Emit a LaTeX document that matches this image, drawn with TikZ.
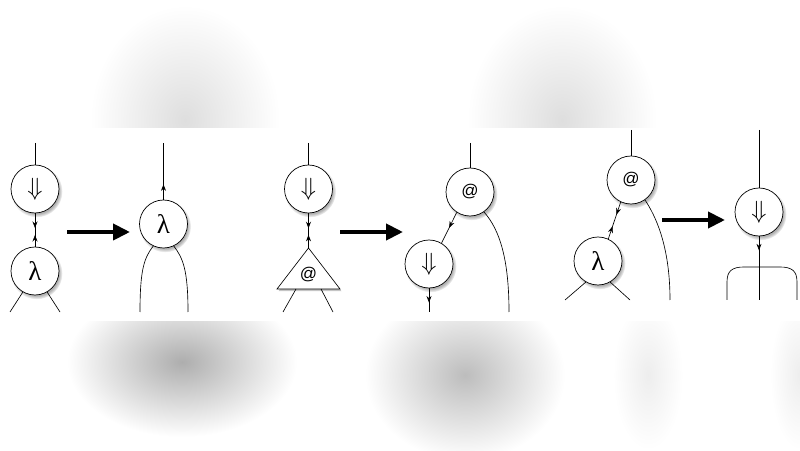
\documentclass[tikz,border=0pt]{standalone}
\usepackage{fontspec}
\newfontfamily\helv{Liberation Sans}
\newfontfamily\serifgreek{Liberation Serif}
\usetikzlibrary{shapes,arrows,arrows.meta,shadows,decorations.markings}
\tikzstyle{agent} = [circle, draw=black, fill=white, minimum size=48pt, inner sep=0pt, line width=0.7pt, circular drop shadow={shadow scale=1.08, shadow xshift=1.5pt, shadow yshift=-2.2pt, opacity=0.6}]
\tikzstyle{wire} = [line width=0.65pt]
\tikzstyle{rewrite} = [line width=4pt, -{Triangle[length=17pt,width=16pt]}]
\tikzstyle{blob} = [outer color=white]
\tikzset{tipat/.style={postaction={decorate}, decoration={markings, mark=at position #1 with {\arrow{Stealth[length=6.5pt,width=5pt]}}}}}
\tikzset{meet/.style 2 args={postaction={decorate}, decoration={markings, mark=at position #1 with {\arrow{Stealth[length=6.5pt,width=5pt]}}, mark=at position #2 with {\arrowreversed{Stealth[length=6.5pt,width=5pt]}}}}}
\newcommand\bigsym{\Huge}
\newcommand\lam{\serifgreek\fontsize{27}{27}\selectfont λ}
\newcommand\atsym{\helv\fontsize{17}{17}\selectfont @}

\begin{document}
\begin{tikzpicture}[x=1pt,y=1pt,node distance=82pt]
    \useasboundingbox (0,0) rectangle (800,450);
    % blurred backdrop
    \shade[blob, inner color=black!13] (185,330) ellipse (95 and 115);
    \shade[blob, inner color=black!13] (562,330) ellipse (95 and 115);
    \shade[blob, inner color=black!32] (182,88) ellipse (115 and 75);
    \shade[blob, inner color=black!26] (465,75) ellipse (100 and 85);
    \shade[blob, inner color=black!7] (648,75) ellipse (35 and 75);
    \shade[blob, inner color=black!7] (800,75) ellipse (30 and 75);
    \fill[white] (0,129) rectangle (800,322);

    % first rule
    \node (dn1) [agent] at (35,261) {\bigsym$\Downarrow$};
    \node (lam1) [agent, below of=dn1] {\lam};
    \coordinate (t1) at (35,307);
    \coordinate (l1a) at (10,138);
    \coordinate (l1b) at (60,138);
    \draw [wire] (t1) -- (dn1);
    \draw [wire, meet={0.44}{0.65}] (dn1) -- (lam1);
    \draw [wire] (lam1.240) -- (l1a);
    \draw [wire] (lam1.300) -- (l1b);
    \coordinate (r1s) at (67,218);
    \coordinate (r1e) at (130,218);
    \draw [rewrite] (r1s) -- (r1e);
    \node (lam2) [agent] at (163.5,226) {\lam};
    \coordinate (t2) at (163.5,307);
    \coordinate (l2a) at (140,138);
    \coordinate (l2b) at (188,138);
    \draw [wire, tipat=0.27] (lam2) -- (t2);
    \draw [wire] (lam2.245) .. controls (144,192) and (140,180) .. (l2a);
    \draw [wire] (lam2.295) .. controls (183,192) and (188,180) .. (l2b);

    % second rule
    \node (dn2) [agent] at (308.5,261) {\bigsym$\Downarrow$};
    \coordinate (apex) at (308.5,202);
    \coordinate (bl) at (277,161);
    \coordinate (br) at (340,161);
    \filldraw [wire, fill=white, drop shadow={shadow xshift=1.5pt, shadow yshift=-2.2pt, opacity=0.45}] (apex) -- (bl) -- (br) -- cycle;
    \node (app1) at (308.5,175) {\atsym};
    \coordinate (t3) at (308.5,307);
    \coordinate (l3a) at (283,138);
    \coordinate (l3b) at (333,138);
    \draw [wire] (t3) -- (dn2);
    \draw [wire, meet={0.43}{0.62}] (dn2) -- (apex);
    \draw [wire] (296,161) -- (l3a);
    \draw [wire] (321,161) -- (l3b);
    \coordinate (r2s) at (340,218);
    \coordinate (r2e) at (403,218);
    \draw [rewrite] (r2s) -- (r2e);
    \node (app2) [agent] at (470,258) {\atsym};
    \node (dn3) [agent] at (429,186) {\bigsym$\Downarrow$};
    \coordinate (t4) at (470,307);
    \coordinate (b3) at (429,138);
    \coordinate (l4) at (509,138);
    \draw [wire] (t4) -- (app2);
    \draw [wire, tipat=0.5] (app2.237) -- (dn3.59);
    \draw [wire, tipat=0.6] (dn3) -- (b3);
    \draw [wire] (app2.-55) .. controls (500,220) and (509,190) .. (l4);

    % third rule
    \node (app3) [agent] at (631,270) {\atsym};
    \node (lam3) [agent] at (598,189) {\lam};
    \coordinate (t5) at (631,320);
    \coordinate (l5a) at (565,150);
    \coordinate (l5b) at (630,150);
    \coordinate (l5c) at (670,150);
    \draw [wire] (t5) -- (app3);
    \draw [wire, meet={0.34}{0.66}] (app3.245) -- (lam3.65);
    \draw [wire] (lam3.240) -- (l5a);
    \draw [wire] (lam3.300) -- (l5b);
    \draw [wire] (app3.-55) .. controls (655,235) and (670,205) .. (l5c);
    \coordinate (r3s) at (662,230);
    \coordinate (r3e) at (725,230);
    \draw [rewrite] (r3s) -- (r3e);
    \node (dn4) [agent] at (759,238) {\bigsym$\Downarrow$};
    \coordinate (t6) at (759,320);
    \coordinate (b6) at (759,150);
    \draw [wire] (t6) -- (dn4);
    \draw [wire, tipat=0.22] (dn4) -- (b6);
    \draw [wire] (727,150) -- (727,168) .. controls (727,179) and (732,183) .. (744,183) -- (780,183) .. controls (792,183) and (797,179) .. (797,168) -- (797,150);
\end{tikzpicture}
\end{document}
